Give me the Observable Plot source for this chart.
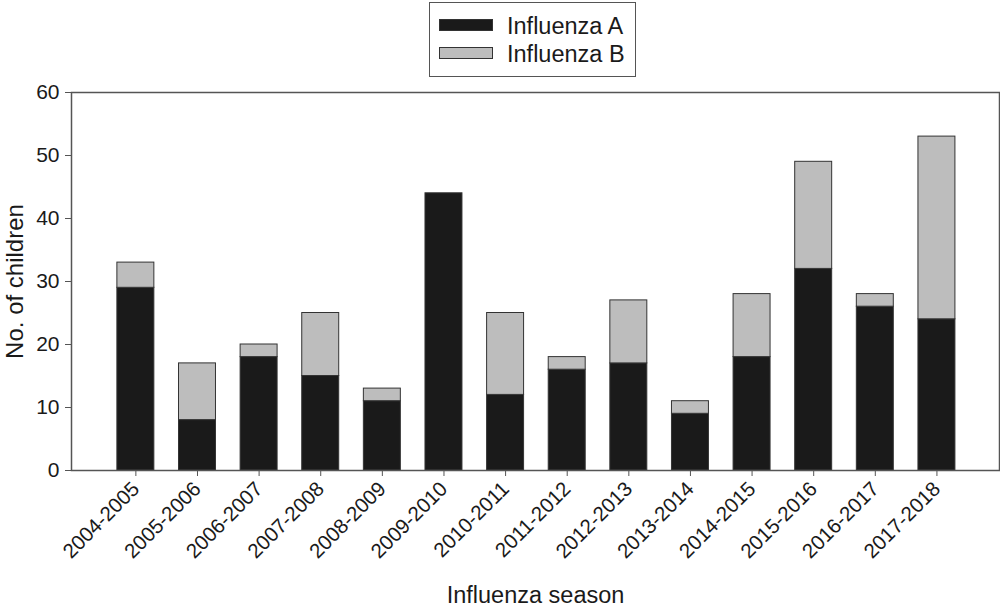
<!DOCTYPE html>
<html>
<head>
<meta charset="utf-8">
<script src="https://cdn.jsdelivr.net/npm/d3@7"></script>
<script src="https://cdn.jsdelivr.net/npm/@observablehq/plot@0.6"></script>
<style>
  html, body { margin: 0; padding: 0; background: #fff; }
  body { width: 1000px; height: 607px; overflow: hidden; font-family: "Liberation Sans", Arial, sans-serif; color: #1a1a1a; }
  #legend { position: relative; width: 1000px; height: 80px; }
  #legend .box { position: absolute; left: 429px; top: 2px; width: 205px; height: 73px; border: 1.5px solid #555; }
  #legend .sw { position: absolute; left: 439px; width: 52px; height: 10px; border: 1px solid #333; }
  #legend .lab { position: absolute; left: 507px; font-size: 23.5px; line-height: 24px; }
  #chart svg { display: block; }
</style>
</head>
<body>
<div id="legend">
  <div class="box"></div>
  <div class="sw" style="top:19px;background:#1a1a1a"></div>
  <div class="lab" style="top:14px">Influenza A</div>
  <div class="sw" style="top:47px;background:#bdbdbd"></div>
  <div class="lab" style="top:42px">Influenza B</div>
</div>
<div id="chart"></div>
<script>
const seasons = ["2004-2005","2005-2006","2006-2007","2007-2008","2008-2009","2009-2010","2010-2011","2011-2012","2012-2013","2013-2014","2014-2015","2015-2016","2016-2017","2017-2018"];
const influenzaA = [29, 8, 18, 15, 11, 44, 12, 16, 17, 9, 18, 32, 26, 24];
const influenzaB = [4, 9, 2, 10, 2, 0, 13, 2, 10, 2, 10, 17, 2, 29];
const series = ["Influenza A", "Influenza B"];
const yTicks = [0, 10, 20, 30, 40, 50, 60];

const rows = [];
seasons.forEach((s, i) => {
  rows.push({season: s, type: series[0], value: influenzaA[i]});
  if (influenzaB[i] > 0) rows.push({season: s, type: series[1], value: influenzaB[i]});
});

const chart = Plot.plot({
  width: 1000,
  height: 527,
  marginTop: 12,
  marginBottom: 137,
  marginLeft: 71,
  marginRight: 1,
  style: {fontFamily: "Liberation Sans, Arial, sans-serif", color: "#1a1a1a", background: "#fff"},
  x: {domain: seasons, paddingInner: 0.4, paddingOuter: 0.73, align: 0.51, round: false, label: null},
  y: {domain: [0, 60], label: null},
  color: {domain: series, range: ["#1a1a1a", "#bdbdbd"]},
  marks: [
    Plot.barY(rows, Plot.stackY({x: "season", y: "value", fill: "type", order: series, stroke: "#333", strokeWidth: 1})),
    Plot.frame({stroke: "#555", strokeWidth: 1.5}),
    Plot.axisY({ticks: yTicks, tickSize: 6, tickPadding: 6, fontSize: 21, stroke: "#555", label: null}),
    Plot.axisX({tickSize: 6, tickPadding: 9, tickRotate: -45, fontSize: 20.5, stroke: "#555", label: null}),
    Plot.text(["No. of children"], {frameAnchor: "left", textAnchor: "middle", rotate: -90, dx: -49, lineAnchor: "bottom", fontSize: 24, fill: "#1a1a1a"}),
    Plot.text(["Influenza season"], {frameAnchor: "bottom", dy: 132, lineAnchor: "bottom", fontSize: 23.5, fill: "#1a1a1a"})
  ]
});
document.getElementById("chart").appendChild(chart);
</script>
</body>
</html>
